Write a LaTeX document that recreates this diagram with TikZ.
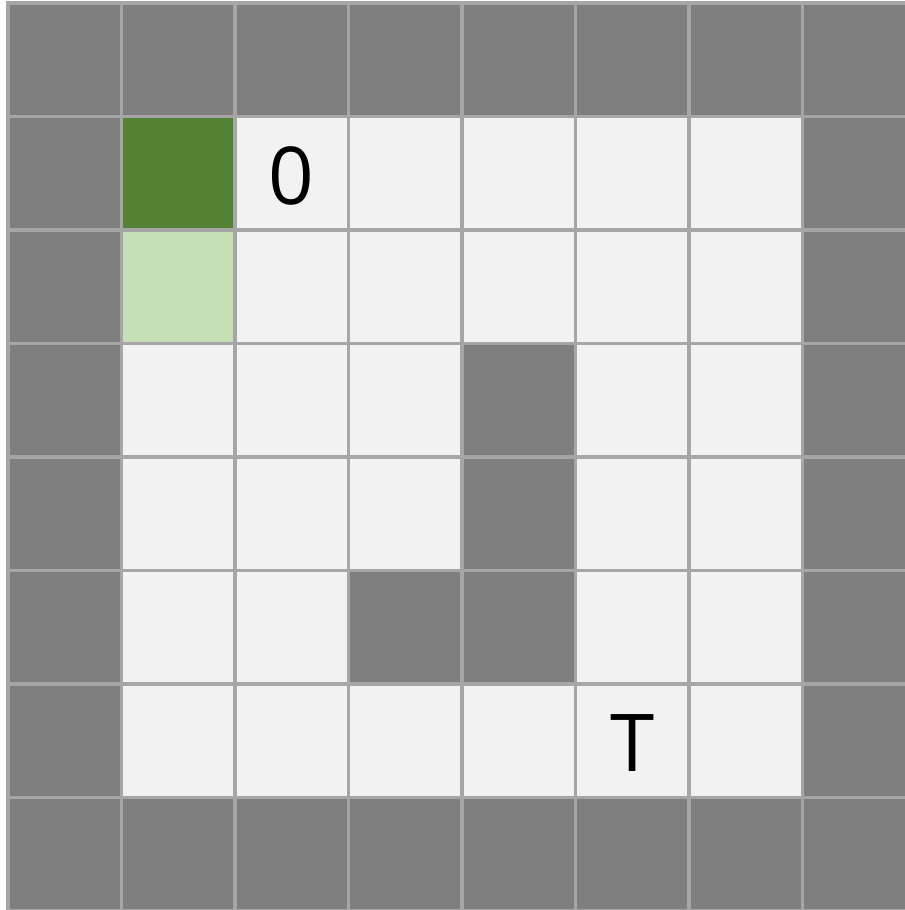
\documentclass[tikz,border=0pt]{standalone}
\usepackage{fontspec}
\newfontfamily\gridfont{Open Sans}
\usepackage{tikz}
\usetikzlibrary{positioning}
\definecolor{wallgray}{HTML}{7F7F7F}
\definecolor{floorgray}{HTML}{F2F2F2}
\definecolor{gridline}{HTML}{A6A6A6}
\definecolor{agentgreen}{HTML}{548235}
\definecolor{trailgreen}{HTML}{C5E0B4}
\tikzset{
  floor/.style   = {draw=gridline, line width=0.8pt, fill=floorgray,
                    rectangle, minimum size=1cm, inner sep=0pt},
  wall/.style    = {floor, fill=wallgray},
  agent/.style   = {floor, fill=agentgreen},
  trail/.style   = {floor, fill=trailgreen},
  celltext/.style = {font=\gridfont\fontsize{20}{24}\selectfont, inner sep=0pt},
}

\begin{document}
\begin{tikzpicture}[x=1cm,y=1cm]
\useasboundingbox (-0.0705,0.009) rectangle (7.894,8.026);
% open floor
\foreach \r in {1,...,6}
  \foreach \c in {1,...,6}
    \node[floor] (c-\r-\c) at (\c+0.5,7.5-\r) {};
% outer wall
\foreach \k in {0,...,7}{
  \node[wall] (c-0-\k) at (\k+0.5,7.5) {};
  \node[wall] (c-7-\k) at (\k+0.5,0.5) {};
}
\foreach \k in {1,...,6}{
  \node[wall] (c-\k-0) at (0.5,7.5-\k) {};
  \node[wall] (c-\k-7) at (7.5,7.5-\k) {};
}
% inner walls
\foreach \r/\c in {3/4,4/4,5/3,5/4}
  \node[wall] (w-\r-\c) at (\c+0.5,7.5-\r) {};
% agent and trail
\node[agent] (agent) at (c-1-1) {};
\node[trail] (trail) at (c-2-1) {};
% labels
\node[celltext] (zero) at ([yshift=-0.02cm]c-1-2) {0};
\node[celltext] (goal) at ([yshift=-0.02cm]c-6-5) {T};
\end{tikzpicture}
\end{document}
